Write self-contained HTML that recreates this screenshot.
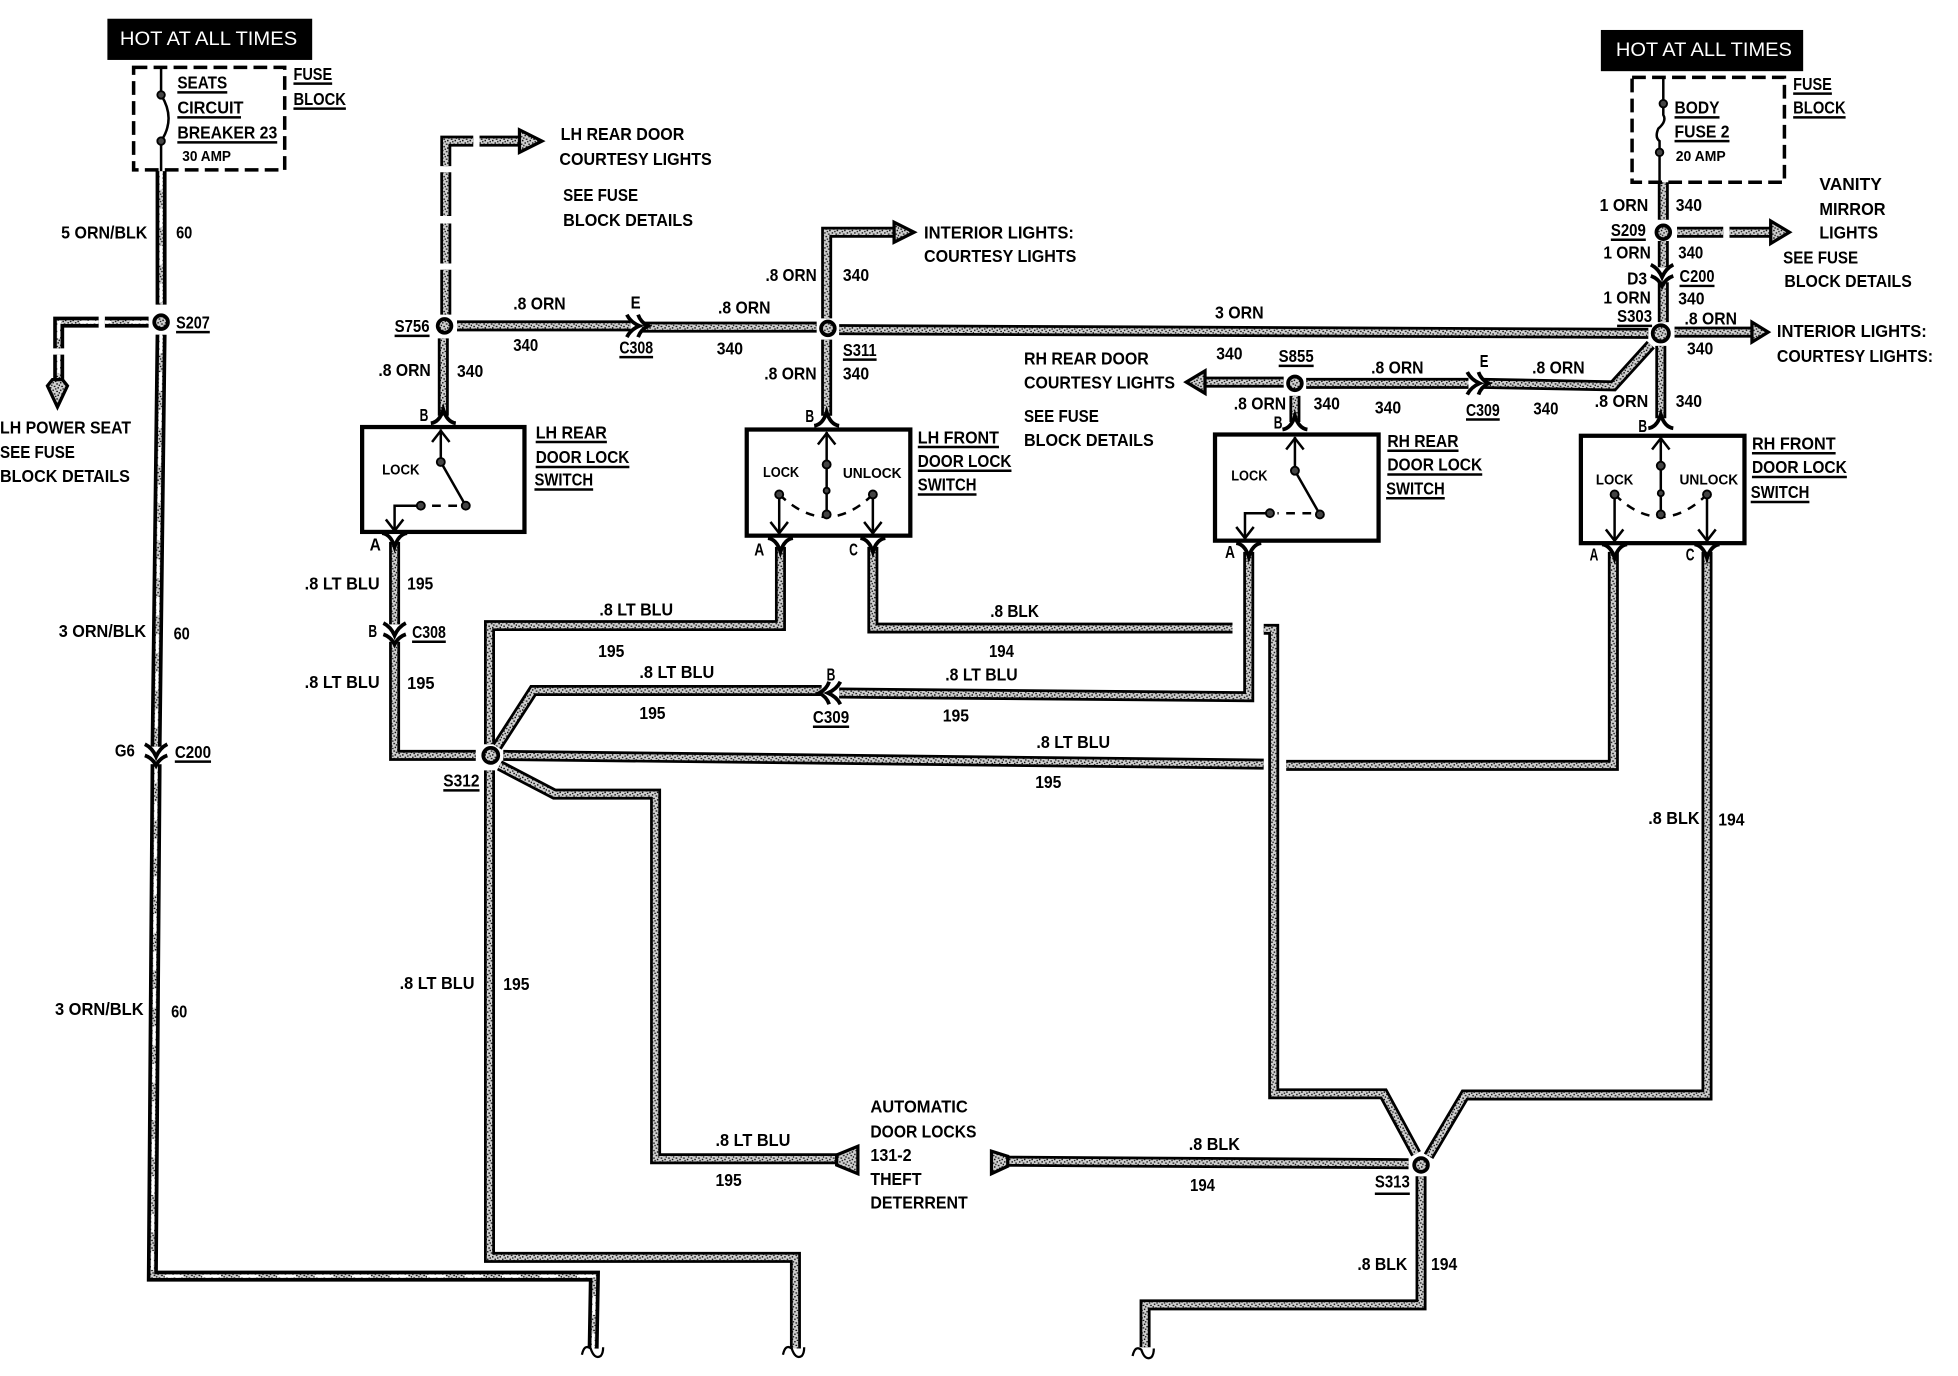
<!DOCTYPE html>
<html lang="en"><head><meta charset="utf-8"><title>Door lock wiring diagram</title>
<style>
html,body{margin:0;padding:0;background:#fff}
svg{display:block}
text{font-family:"Liberation Sans Narrow","Liberation Sans",sans-serif;font-weight:700;font-size:14px;fill:#000}
.s{font-size:12px}
.h{font-family:"Liberation Sans",sans-serif;font-weight:400;font-size:15.5px;fill:#fff}
.wk{fill:none;stroke:#000;stroke-width:8.8;stroke-linejoin:miter}
.wn{fill:none;stroke:url(#noise);stroke-width:4.4;stroke-linejoin:miter}
.tk{fill:none;stroke:#000;stroke-width:8.8}
.tn{fill:none;stroke:url(#noise);stroke-width:3}
.tw{fill:none;stroke:#fff;stroke-width:2.2;stroke-dasharray:15 15}
.l{fill:none;stroke:#000;stroke-width:2}
.u{fill:none;stroke:#000;stroke-width:2}
.box{fill:none;stroke:#000;stroke-width:3.4}
.n{fill:url(#noise);stroke:#000;stroke-width:3}
.sn{fill:#444;stroke:#000;stroke-width:1.5}
.ah{fill:url(#noise);stroke:#000;stroke-width:2.6;stroke-linejoin:miter}
.f{fill:none;stroke:#000;stroke-width:3}
.d{fill:none;stroke:#000;stroke-width:2;stroke-dasharray:7 6}
.z{fill:none;stroke:#000;stroke-width:1.8}
</style></head><body>
<svg xmlns="http://www.w3.org/2000/svg" width="1958" height="1376" viewBox="0 0 1568 1102" preserveAspectRatio="none">
<defs>
<pattern id="noise" patternUnits="userSpaceOnUse" width="6" height="6">
<rect width="6" height="6" fill="#cfcfcf"/>
<rect x="0" y="0" width="1.2" height="1.1" fill="#111"/><rect x="3" y="1" width="1.4" height="1" fill="#111"/>
<rect x="5" y="2" width="1" height="1.2" fill="#111"/><rect x="1" y="3" width="1.4" height="1" fill="#111"/>
<rect x="4" y="4" width="1.2" height="1.2" fill="#111"/><rect x="2" y="5" width="1.2" height="1" fill="#111"/>
</pattern>
<path id="wires" d="M357,133V113H379M357,138V173M357,179V211M357,216V252M384,113H420
M366,261H505M514,262H654M355,271V333
M662,255V186H718M662,272V333M672,264L1320,267
M1332,146V176M1332,193V214M1332,226V258M1343,186H1380M1385,186H1420M1341,266H1405M1330,277V335
M1322,276L1292,309L1188,307M1176,307H1046M1028,306H962M1037,317V338
M316,434V500M316,514V605H381
M392,596V501H625V438
M699,438V503H987
M398,598L427,553H658M672,555L1000,558V442
M403,605L1012,612M1030,613H1292V442
M400,613L444,636H525V928H672
M392,617V1007H637V1080
M1012,504H1020V876H1108L1134,924
M1367,442V877H1173L1144,926
M1128,932L806,930
M1138,942V1045H917V1079"/>
<path id="tw" d="M129,137V244M129,268L125,598M125,612L122,1022H476L475,1080M119,258H84M79,258H47V279M47,284V304"/>
<path id="cc" class="f" d="M-9,-8Q-3,-5 0,2Q3,-5 9,-8M-9,1Q-3,3 0,9Q3,3 9,1"/>
<path id="fk" class="f" d="M-10,6Q-3,5 0,-5Q3,5 10,6"/>
<path id="ar" class="l" d="M-7,9L0,0L7,9"/>
<path id="br" class="z" d="M-9,4Q-7,-5 -2,-1Q1,8 6,5Q8,3 8,-2"/>
</defs>

<use href="#wires" class="wk"/><use href="#wires" class="wn"/>
<use href="#tw" class="tk"/><use href="#tw" class="tn"/><use href="#tw" class="tw"/>

<!-- arrowheads -->
<path class="ah" d="M416,109V104L434,113L416,122V117Z"/>
<path class="ah" d="M716,182V178L732,186L716,194V190Z"/>
<path class="ah" d="M1418,182V177L1433,186L1418,195V190Z"/>
<path class="ah" d="M1403,262V258L1416,266L1403,274V270Z"/>
<path class="ah" d="M965,302V297L950,306L965,315V310Z"/>
<path class="ah" d="M42,304H50L54,309L46,326L38,309Z"/>
<path class="ah" d="M670,925L687,918V940L670,933Z"/>
<path class="ah" d="M807,926L794,922V940L807,934Z"/>

<!-- breaks -->
<use href="#br" x="475" y="1081"/><use href="#br" x="636" y="1081"/><use href="#br" x="916" y="1082"/>

<!-- nodes -->
<circle class="n" cx="129" cy="258" r="5.5"/><circle class="n" cx="356" cy="261" r="5.5"/>
<circle class="n" cx="663" cy="263" r="5.5"/><circle class="n" cx="1332" cy="186" r="5.5"/>
<circle class="n" cx="1330" cy="267" r="6.5"/><circle class="n" cx="1037" cy="307" r="5.5"/>
<circle class="n" cx="393" cy="605" r="6"/><circle class="n" cx="1138" cy="933" r="5.5"/>

<!-- in-line connectors -->
<use href="#cc" transform="translate(125,604)"/>
<use href="#cc" transform="translate(316,507)"/>
<use href="#cc" transform="translate(1331,220)"/>
<use href="#cc" transform="translate(510,261) rotate(-90)"/>
<use href="#cc" transform="translate(1183,307) rotate(-90)"/>
<use href="#cc" transform="translate(665,555) rotate(90)"/>

<!-- switch pin forks -->
<use href="#fk" transform="translate(355,333)"/><use href="#fk" transform="translate(662,335)"/>
<use href="#fk" transform="translate(1037,338)"/><use href="#fk" transform="translate(1330,337)"/>
<use href="#fk" transform="translate(316,433) scale(1,-1)"/>
<use href="#fk" transform="translate(625,437) scale(1,-1)"/><use href="#fk" transform="translate(699,437) scale(1,-1)"/>
<use href="#fk" transform="translate(1000,441) scale(1,-1)"/>
<use href="#fk" transform="translate(1293,442) scale(1,-1)"/><use href="#fk" transform="translate(1367,442) scale(1,-1)"/>

<!-- fuse blocks -->
<rect x="86" y="15" width="164" height="33" fill="#000"/>
<rect x="1282" y="24" width="162" height="33" fill="#000"/>
<text class="h" x="96" y="36" textLength="142" lengthAdjust="spacingAndGlyphs">HOT AT ALL TIMES</text>
<text class="h" x="1294" y="45" textLength="141" lengthAdjust="spacingAndGlyphs">HOT AT ALL TIMES</text>
<rect x="107" y="54" width="121" height="82" fill="none" stroke="#000" stroke-width="2.8" stroke-dasharray="11 5"/>
<rect x="1307" y="62" width="122" height="84" fill="none" stroke="#000" stroke-width="2.8" stroke-dasharray="11 5"/>
<path class="l" d="M129,54V76Q141,95 129,113V137"/>
<circle class="sn" cx="129" cy="76" r="3"/><circle class="sn" cx="129" cy="113" r="3"/>
<path class="l" d="M1332,62V83V92Q1335,97 1328,103Q1325,110 1329,113V122V146"/>
<circle class="sn" cx="1332" cy="83" r="3"/><circle class="sn" cx="1329" cy="122" r="3"/>

<!-- switches -->
<rect class="box" x="290" y="342" width="130" height="84"/>
<rect class="box" x="598" y="344" width="131" height="85"/>
<rect class="box" x="973" y="348" width="131" height="85"/>
<rect class="box" x="1266" y="349" width="131" height="86"/>

<path class="l" d="M353,344V370L373,405M337,405H316V426"/>
<path class="d" d="M366,405H343"/>
<circle class="sn" cx="353" cy="370" r="3.2"/><circle class="sn" cx="373" cy="405" r="3.2"/><circle class="sn" cx="337" cy="405" r="3.2"/>
<use href="#ar" x="353" y="345"/><use href="#ar" transform="translate(316,425) scale(1,-1)"/>

<path class="l" d="M1037,350V377L1057,412M1017,411H997V432"/>
<path class="d" d="M1050,411H1023"/>
<circle class="sn" cx="1037" cy="377" r="3.2"/><circle class="sn" cx="1057" cy="412" r="3.2"/><circle class="sn" cx="1017" cy="411" r="3.2"/>
<use href="#ar" x="1037" y="351"/><use href="#ar" transform="translate(997,431) scale(1,-1)"/>

<path class="l" d="M662,346V412M624,396V428M699,396V428"/>
<path class="d" d="M624,396Q662,432 699,396"/>
<circle class="sn" cx="662" cy="372" r="3.2"/><circle class="sn" cx="662" cy="393" r="2.4"/><circle class="sn" cx="662" cy="412" r="3.2"/><circle class="sn" cx="624" cy="396" r="3.2"/><circle class="sn" cx="699" cy="396" r="3.2"/>
<use href="#ar" x="662" y="347"/><use href="#ar" transform="translate(624,427) scale(1,-1)"/><use href="#ar" transform="translate(699,427) scale(1,-1)"/>

<path class="l" d="M1330,350V412M1293,396V434M1367,396V434"/>
<path class="d" d="M1293,396Q1330,432 1367,396"/>
<circle class="sn" cx="1330" cy="373" r="3.2"/><circle class="sn" cx="1330" cy="395" r="2.4"/><circle class="sn" cx="1330" cy="412" r="3.2"/><circle class="sn" cx="1293" cy="396" r="3.2"/><circle class="sn" cx="1367" cy="396" r="3.2"/>
<use href="#ar" x="1330" y="351"/><use href="#ar" transform="translate(1293,433) scale(1,-1)"/><use href="#ar" transform="translate(1367,433) scale(1,-1)"/>

<!-- underlines -->
<path class="u" d="M142,74H182M142,94H193M142,114H222M235,67H266M235,87H277M141,266H168M140,610H169
M316,269H344M496,286H523M675,288H702M330,514H357M355,633H384
M429,354H486M429,374H504M428,392H475M735,358H800M735,377H810M735,396H782
M1111,361H1168M1111,380H1187M1110,399H1157M1403,363H1470M1403,382H1479M1402,402H1449
M1024,293H1052M1174,336H1201M651,582H680M1101,956H1129
M1341,94H1377M1341,113H1385M1436,75H1467M1436,94H1478M1290,192H1318M1345,229H1373M1295,261H1323"/>

<!-- labels -->
<g>
<text x="142" y="71" textLength="40" lengthAdjust="spacingAndGlyphs">SEATS</text>
<text x="142" y="91" textLength="53" lengthAdjust="spacingAndGlyphs">CIRCUIT</text>
<text x="142" y="111" textLength="80" lengthAdjust="spacingAndGlyphs">BREAKER 23</text>
<text class="s" x="146" y="129" textLength="39" lengthAdjust="spacingAndGlyphs">30 AMP</text>
<text x="235" y="64" textLength="31" lengthAdjust="spacingAndGlyphs">FUSE</text>
<text x="235" y="84" textLength="42" lengthAdjust="spacingAndGlyphs">BLOCK</text>
<text x="49" y="191" textLength="69" lengthAdjust="spacingAndGlyphs">5 ORN/BLK</text>
<text x="141" y="191" textLength="13" lengthAdjust="spacingAndGlyphs">60</text>
<text x="141" y="263" textLength="27" lengthAdjust="spacingAndGlyphs">S207</text>
<text x="0" y="347" textLength="105" lengthAdjust="spacingAndGlyphs">LH POWER SEAT</text>
<text x="0" y="367" textLength="60" lengthAdjust="spacingAndGlyphs">SEE FUSE</text>
<text x="0" y="386" textLength="104" lengthAdjust="spacingAndGlyphs">BLOCK DETAILS</text>
<text x="47" y="510" textLength="70" lengthAdjust="spacingAndGlyphs">3 ORN/BLK</text>
<text x="139" y="512" textLength="13" lengthAdjust="spacingAndGlyphs">60</text>
<text x="92" y="606" textLength="16" lengthAdjust="spacingAndGlyphs">G6</text>
<text x="140" y="607" textLength="29" lengthAdjust="spacingAndGlyphs">C200</text>
<text x="44" y="813" textLength="71" lengthAdjust="spacingAndGlyphs">3 ORN/BLK</text>
<text x="137" y="815" textLength="13" lengthAdjust="spacingAndGlyphs">60</text>

<text x="449" y="112" textLength="99" lengthAdjust="spacingAndGlyphs">LH REAR DOOR</text>
<text x="448" y="132" textLength="122" lengthAdjust="spacingAndGlyphs">COURTESY LIGHTS</text>
<text x="451" y="161" textLength="60" lengthAdjust="spacingAndGlyphs">SEE FUSE</text>
<text x="451" y="181" textLength="104" lengthAdjust="spacingAndGlyphs">BLOCK DETAILS</text>
<text x="411" y="248" textLength="42" lengthAdjust="spacingAndGlyphs">.8 ORN</text>
<text x="411" y="281" textLength="20" lengthAdjust="spacingAndGlyphs">340</text>
<text x="505" y="247" textLength="8" lengthAdjust="spacingAndGlyphs">E</text>
<text x="496" y="283" textLength="27" lengthAdjust="spacingAndGlyphs">C308</text>
<text x="575" y="251" textLength="42" lengthAdjust="spacingAndGlyphs">.8 ORN</text>
<text x="574" y="284" textLength="21" lengthAdjust="spacingAndGlyphs">340</text>
<text x="316" y="266" textLength="28" lengthAdjust="spacingAndGlyphs">S756</text>
<text x="303" y="301" textLength="42" lengthAdjust="spacingAndGlyphs">.8 ORN</text>
<text x="366" y="302" textLength="21" lengthAdjust="spacingAndGlyphs">340</text>
<text x="336" y="337" textLength="7" lengthAdjust="spacingAndGlyphs">B</text>
<text class="s" x="306" y="380" textLength="30" lengthAdjust="spacingAndGlyphs">LOCK</text>
<text x="429" y="351" textLength="57" lengthAdjust="spacingAndGlyphs">LH REAR</text>
<text x="429" y="371" textLength="75" lengthAdjust="spacingAndGlyphs">DOOR LOCK</text>
<text x="428" y="389" textLength="47" lengthAdjust="spacingAndGlyphs">SWITCH</text>
<text x="296" y="441" textLength="9" lengthAdjust="spacingAndGlyphs">A</text>
<text x="244" y="472" textLength="60" lengthAdjust="spacingAndGlyphs">.8 LT BLU</text>
<text x="326" y="472" textLength="21" lengthAdjust="spacingAndGlyphs">195</text>
<text x="295" y="510" textLength="7" lengthAdjust="spacingAndGlyphs">B</text>
<text x="330" y="511" textLength="27" lengthAdjust="spacingAndGlyphs">C308</text>
<text x="244" y="551" textLength="60" lengthAdjust="spacingAndGlyphs">.8 LT BLU</text>
<text x="326" y="552" textLength="22" lengthAdjust="spacingAndGlyphs">195</text>
<text x="355" y="630" textLength="29" lengthAdjust="spacingAndGlyphs">S312</text>

<text x="480" y="493" textLength="59" lengthAdjust="spacingAndGlyphs">.8 LT BLU</text>
<text x="479" y="526" textLength="21" lengthAdjust="spacingAndGlyphs">195</text>
<text x="512" y="543" textLength="60" lengthAdjust="spacingAndGlyphs">.8 LT BLU</text>
<text x="512" y="576" textLength="21" lengthAdjust="spacingAndGlyphs">195</text>
<text x="662" y="545" textLength="7" lengthAdjust="spacingAndGlyphs">B</text>
<text x="651" y="579" textLength="29" lengthAdjust="spacingAndGlyphs">C309</text>
<text x="757" y="545" textLength="58" lengthAdjust="spacingAndGlyphs">.8 LT BLU</text>
<text x="755" y="578" textLength="21" lengthAdjust="spacingAndGlyphs">195</text>
<text x="830" y="599" textLength="59" lengthAdjust="spacingAndGlyphs">.8 LT BLU</text>
<text x="829" y="631" textLength="21" lengthAdjust="spacingAndGlyphs">195</text>
<text x="320" y="792" textLength="60" lengthAdjust="spacingAndGlyphs">.8 LT BLU</text>
<text x="403" y="793" textLength="21" lengthAdjust="spacingAndGlyphs">195</text>
<text x="573" y="918" textLength="60" lengthAdjust="spacingAndGlyphs">.8 LT BLU</text>
<text x="573" y="950" textLength="21" lengthAdjust="spacingAndGlyphs">195</text>
<text x="697" y="891" textLength="78" lengthAdjust="spacingAndGlyphs">AUTOMATIC</text>
<text x="697" y="911" textLength="85" lengthAdjust="spacingAndGlyphs">DOOR LOCKS</text>
<text x="697" y="930" textLength="33" lengthAdjust="spacingAndGlyphs">131-2</text>
<text x="697" y="949" textLength="41" lengthAdjust="spacingAndGlyphs">THEFT</text>
<text x="697" y="968" textLength="78" lengthAdjust="spacingAndGlyphs">DETERRENT</text>

<text class="s" x="611" y="382" textLength="29" lengthAdjust="spacingAndGlyphs">LOCK</text>
<text class="s" x="675" y="383" textLength="47" lengthAdjust="spacingAndGlyphs">UNLOCK</text>
<text x="735" y="355" textLength="65" lengthAdjust="spacingAndGlyphs">LH FRONT</text>
<text x="735" y="374" textLength="75" lengthAdjust="spacingAndGlyphs">DOOR LOCK</text>
<text x="735" y="393" textLength="47" lengthAdjust="spacingAndGlyphs">SWITCH</text>
<text x="604" y="445" textLength="8" lengthAdjust="spacingAndGlyphs">A</text>
<text x="680" y="445" textLength="7" lengthAdjust="spacingAndGlyphs">C</text>
<text x="645" y="338" textLength="7" lengthAdjust="spacingAndGlyphs">B</text>
<text x="613" y="225" textLength="41" lengthAdjust="spacingAndGlyphs">.8 ORN</text>
<text x="675" y="225" textLength="21" lengthAdjust="spacingAndGlyphs">340</text>
<text x="740" y="191" textLength="120" lengthAdjust="spacingAndGlyphs">INTERIOR LIGHTS:</text>
<text x="740" y="210" textLength="122" lengthAdjust="spacingAndGlyphs">COURTESY LIGHTS</text>
<text x="675" y="285" textLength="27" lengthAdjust="spacingAndGlyphs">S311</text>
<text x="612" y="304" textLength="42" lengthAdjust="spacingAndGlyphs">.8 ORN</text>
<text x="675" y="304" textLength="21" lengthAdjust="spacingAndGlyphs">340</text>
<text x="793" y="494" textLength="39" lengthAdjust="spacingAndGlyphs">.8 BLK</text>
<text x="792" y="526" textLength="20" lengthAdjust="spacingAndGlyphs">194</text>

<text x="973" y="255" textLength="39" lengthAdjust="spacingAndGlyphs">3 ORN</text>
<text x="974" y="288" textLength="21" lengthAdjust="spacingAndGlyphs">340</text>
<text x="820" y="292" textLength="100" lengthAdjust="spacingAndGlyphs">RH REAR DOOR</text>
<text x="820" y="311" textLength="121" lengthAdjust="spacingAndGlyphs">COURTESY LIGHTS</text>
<text x="820" y="338" textLength="60" lengthAdjust="spacingAndGlyphs">SEE FUSE</text>
<text x="820" y="357" textLength="104" lengthAdjust="spacingAndGlyphs">BLOCK DETAILS</text>
<text x="1024" y="290" textLength="28" lengthAdjust="spacingAndGlyphs">S855</text>
<text x="1098" y="299" textLength="42" lengthAdjust="spacingAndGlyphs">.8 ORN</text>
<text x="1101" y="331" textLength="21" lengthAdjust="spacingAndGlyphs">340</text>
<text x="1185" y="294" textLength="7" lengthAdjust="spacingAndGlyphs">E</text>
<text x="1174" y="333" textLength="27" lengthAdjust="spacingAndGlyphs">C309</text>
<text x="1227" y="299" textLength="42" lengthAdjust="spacingAndGlyphs">.8 ORN</text>
<text x="1228" y="332" textLength="20" lengthAdjust="spacingAndGlyphs">340</text>
<text x="988" y="328" textLength="42" lengthAdjust="spacingAndGlyphs">.8 ORN</text>
<text x="1052" y="328" textLength="21" lengthAdjust="spacingAndGlyphs">340</text>
<text x="1020" y="343" textLength="7" lengthAdjust="spacingAndGlyphs">B</text>
<text class="s" x="986" y="385" textLength="29" lengthAdjust="spacingAndGlyphs">LOCK</text>
<text x="1111" y="358" textLength="57" lengthAdjust="spacingAndGlyphs">RH REAR</text>
<text x="1111" y="377" textLength="76" lengthAdjust="spacingAndGlyphs">DOOR LOCK</text>
<text x="1110" y="396" textLength="47" lengthAdjust="spacingAndGlyphs">SWITCH</text>
<text x="981" y="447" textLength="8" lengthAdjust="spacingAndGlyphs">A</text>

<text class="s" x="1278" y="388" textLength="30" lengthAdjust="spacingAndGlyphs">LOCK</text>
<text class="s" x="1345" y="388" textLength="47" lengthAdjust="spacingAndGlyphs">UNLOCK</text>
<text x="1403" y="360" textLength="67" lengthAdjust="spacingAndGlyphs">RH FRONT</text>
<text x="1403" y="379" textLength="76" lengthAdjust="spacingAndGlyphs">DOOR LOCK</text>
<text x="1402" y="399" textLength="47" lengthAdjust="spacingAndGlyphs">SWITCH</text>
<text x="1273" y="449" textLength="7" lengthAdjust="spacingAndGlyphs">A</text>
<text x="1350" y="449" textLength="7" lengthAdjust="spacingAndGlyphs">C</text>
<text x="1312" y="346" textLength="7" lengthAdjust="spacingAndGlyphs">B</text>

<text x="1341" y="91" textLength="36" lengthAdjust="spacingAndGlyphs">BODY</text>
<text x="1341" y="110" textLength="44" lengthAdjust="spacingAndGlyphs">FUSE 2</text>
<text class="s" x="1342" y="129" textLength="40" lengthAdjust="spacingAndGlyphs">20 AMP</text>
<text x="1436" y="72" textLength="31" lengthAdjust="spacingAndGlyphs">FUSE</text>
<text x="1436" y="91" textLength="42" lengthAdjust="spacingAndGlyphs">BLOCK</text>
<text x="1281" y="169" textLength="39" lengthAdjust="spacingAndGlyphs">1 ORN</text>
<text x="1342" y="169" textLength="21" lengthAdjust="spacingAndGlyphs">340</text>
<text x="1290" y="189" textLength="28" lengthAdjust="spacingAndGlyphs">S209</text>
<text x="1284" y="207" textLength="38" lengthAdjust="spacingAndGlyphs">1 ORN</text>
<text x="1344" y="207" textLength="20" lengthAdjust="spacingAndGlyphs">340</text>
<text x="1303" y="228" textLength="16" lengthAdjust="spacingAndGlyphs">D3</text>
<text x="1345" y="226" textLength="28" lengthAdjust="spacingAndGlyphs">C200</text>
<text x="1284" y="243" textLength="38" lengthAdjust="spacingAndGlyphs">1 ORN</text>
<text x="1344" y="244" textLength="21" lengthAdjust="spacingAndGlyphs">340</text>
<text x="1295" y="258" textLength="28" lengthAdjust="spacingAndGlyphs">S303</text>
<text x="1349" y="260" textLength="42" lengthAdjust="spacingAndGlyphs">.8 ORN</text>
<text x="1351" y="284" textLength="21" lengthAdjust="spacingAndGlyphs">340</text>
<text x="1277" y="326" textLength="43" lengthAdjust="spacingAndGlyphs">.8 ORN</text>
<text x="1342" y="326" textLength="21" lengthAdjust="spacingAndGlyphs">340</text>
<text x="1457" y="152" textLength="50" lengthAdjust="spacingAndGlyphs">VANITY</text>
<text x="1457" y="172" textLength="53" lengthAdjust="spacingAndGlyphs">MIRROR</text>
<text x="1457" y="191" textLength="47" lengthAdjust="spacingAndGlyphs">LIGHTS</text>
<text x="1428" y="211" textLength="60" lengthAdjust="spacingAndGlyphs">SEE FUSE</text>
<text x="1429" y="230" textLength="102" lengthAdjust="spacingAndGlyphs">BLOCK DETAILS</text>
<text x="1423" y="270" textLength="120" lengthAdjust="spacingAndGlyphs">INTERIOR LIGHTS:</text>
<text x="1423" y="290" textLength="125" lengthAdjust="spacingAndGlyphs">COURTESY LIGHTS:</text>

<text x="952" y="921" textLength="41" lengthAdjust="spacingAndGlyphs">.8 BLK</text>
<text x="953" y="954" textLength="20" lengthAdjust="spacingAndGlyphs">194</text>
<text x="1101" y="951" textLength="28" lengthAdjust="spacingAndGlyphs">S313</text>
<text x="1087" y="1017" textLength="40" lengthAdjust="spacingAndGlyphs">.8 BLK</text>
<text x="1146" y="1017" textLength="21" lengthAdjust="spacingAndGlyphs">194</text>
<text x="1320" y="660" textLength="41" lengthAdjust="spacingAndGlyphs">.8 BLK</text>
<text x="1376" y="661" textLength="21" lengthAdjust="spacingAndGlyphs">194</text>
</g>
</svg>
</body></html>
